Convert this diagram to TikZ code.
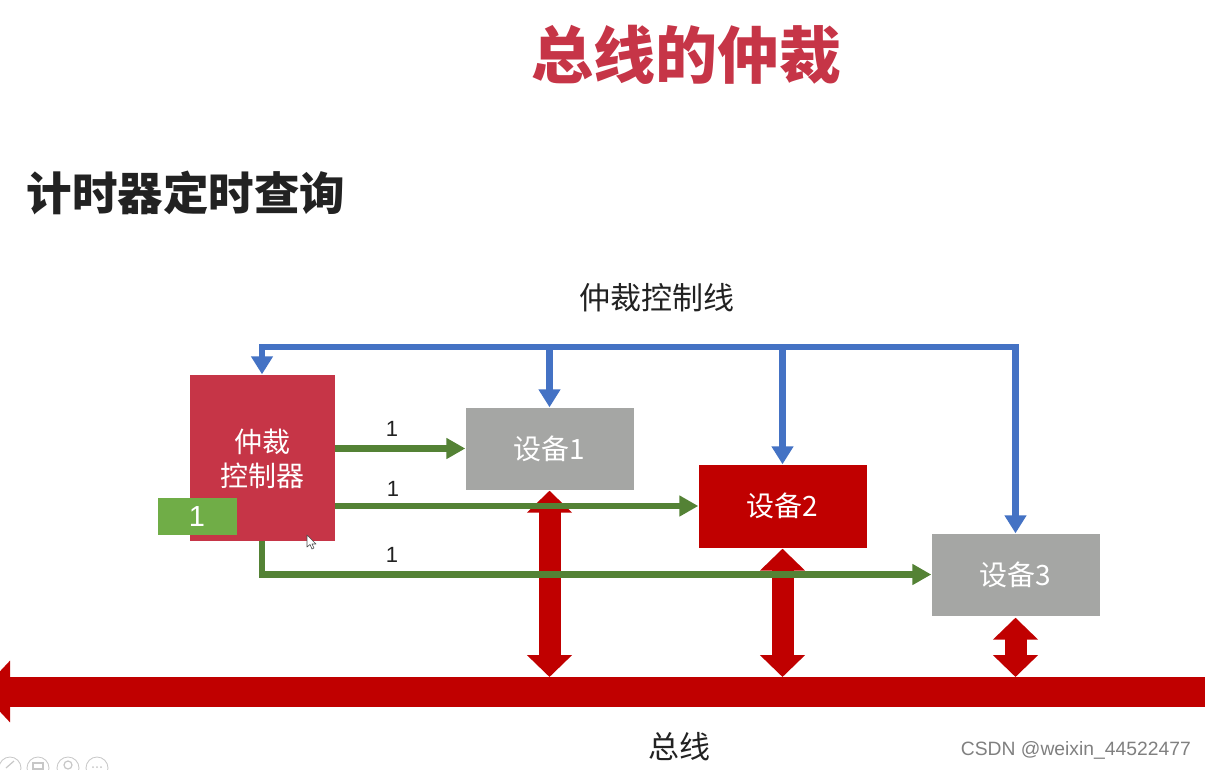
\documentclass[tikz,border=0pt]{standalone}
\usepackage{fontspec}
\setmainfont{Noto Sans CJK SC}
\newfontfamily\latin{Liberation Sans}
\usetikzlibrary{arrows.meta}
\definecolor{busred}{HTML}{C00000}
\definecolor{arbred}{HTML}{C63547}
\definecolor{devgray}{HTML}{A5A6A4}
\definecolor{lineblue}{HTML}{4472C4}
\definecolor{linegreen}{HTML}{548235}
\definecolor{regreen}{HTML}{70AD47}
\definecolor{txt}{HTML}{222222}
\tikzset{
  box/.style={inner sep=0pt,text=white,font=\fontsize{28}{34}\selectfont,align=center},
  devbox/.style={box,minimum width=168pt,minimum height=82pt},
  blueline/.style={draw=lineblue,line width=6.5pt,-{Triangle[length=18pt,width=21pt]}},
  greenline/.style={draw=linegreen,line width=6.5pt,-{Triangle[length=19pt,width=20pt]}},
  busarrow/.style={draw=busred,line width=22pt,{Triangle[length=22pt,width=44pt]}-{Triangle[length=22pt,width=44pt]}},
  lbl/.style={inner sep=0pt,text=txt,font=\latin\fontsize{22}{22}\selectfont},
  captext/.style={inner sep=0pt,text=txt,font=\fontsize{31}{31}\selectfont},
  icon/.style={draw=black!22,line width=0.8pt}
}
\begin{document}
\begin{tikzpicture}[x=1pt,y=-1pt]
\useasboundingbox (0,0) rectangle (1205,769);
\fill[white] (0,0) rectangle (1205,769);
% titles
\node[inner sep=0pt,text=arbred,font=\bfseries\fontsize{62}{62}\selectfont] (title) at (686,55) {总线的仲裁};
\node[inner sep=0pt,text=txt,font=\bfseries\fontsize{45.5}{46}\selectfont] (sub) at (186,193) {计时器定时查询};
\node[captext] (ctl) at (656.5,298) {仲裁控制线};
\node[captext] (buslbl) at (679,747) {总线};
% boxes
\node[box,fill=arbred,minimum width=145pt,minimum height=166pt] (arb) at (262,457.5) {};
\node[box,anchor=center] (arbt) at (262,459) {仲裁\\控制器};
\node[devbox,fill=devgray] (dev1) at (549.5,448.5) {设备1};
\node[devbox,fill=busred,minimum height=83pt] (dev2) at (782.5,506) {设备2};
\node[devbox,fill=devgray] (dev3) at (1015.5,574.5) {设备3};
% bus
\coordinate (busR) at (1205,691.5);
\coordinate (busL) at (-19,691.5);
\coordinate (busT) at (0,677);
\draw[draw=busred,line width=30pt,-{Triangle[length=29pt,width=60pt]}] (busR) -- (busL);
% bidirectional
\draw[busarrow] ([yshift=-1pt]dev1.south) -- (dev1.south |- busT);
\draw[busarrow] ([yshift=-1pt]dev2.south) -- (dev2.south |- busT);
\draw[busarrow] ([yshift=-2pt]dev3.south) -- (dev3.south |- busT);
% blue
\coordinate (blueR) at (1015.5,347);
\draw[draw=lineblue,line width=6.5pt,line cap=rect] (blueR) -- (blueR -| arb.north);
\draw[blueline] (blueR -| arb.north) -- (arb.north);
\draw[blueline] (blueR -| dev1.north) -- (dev1.north);
\draw[blueline] (blueR -| dev2.north) -- (dev2.north);
\draw[blueline] (blueR) -- (dev3.north);
% green
\draw[greenline] (arb.east |- dev1.west) -- (dev1.west);
\draw[greenline] (arb.east |- dev2.west) -- (dev2.west);
\draw[greenline] (arb.south) |- (dev3.west);
% labels
\node[lbl] (l1) at (392,429) {1};
\node[lbl] (l2) at (393,489) {1};
\node[lbl] (l3) at (392,555) {1};
% register
\node[box,fill=regreen,minimum width=79pt,minimum height=37pt,font=\latin\fontsize{29}{29}\selectfont] (reg) at (197,516.5) {1};
% pointer
\draw[fill=white,draw=black!70,line width=0.6pt,line join=round] (307,535) -- (307,547) -- (310,544.5) -- (312,549) -- (314,548) -- (312,544) -- (316,544) -- cycle;
% slide icons
\foreach \cx in {10,38,68,97}
  \draw[icon] (\cx,768) circle (11pt);
\draw[icon,line width=1.2pt] (6,768) -- (14,761);
\draw[icon,line width=1.2pt] (33,763) rectangle (43,769);
\draw[icon,line width=1.2pt] (68,765) circle (4pt);
\fill[black!22] (93,767) circle (1pt) (97,767) circle (1pt) (101,767) circle (1pt);
% watermark
\node[inner sep=0pt,anchor=east,text=black!50,font=\latin\fontsize{19.3}{19.3}\selectfont] (wm) at (1191,750) {CSDN @weixin\_44522477};
\end{tikzpicture}
\end{document}
